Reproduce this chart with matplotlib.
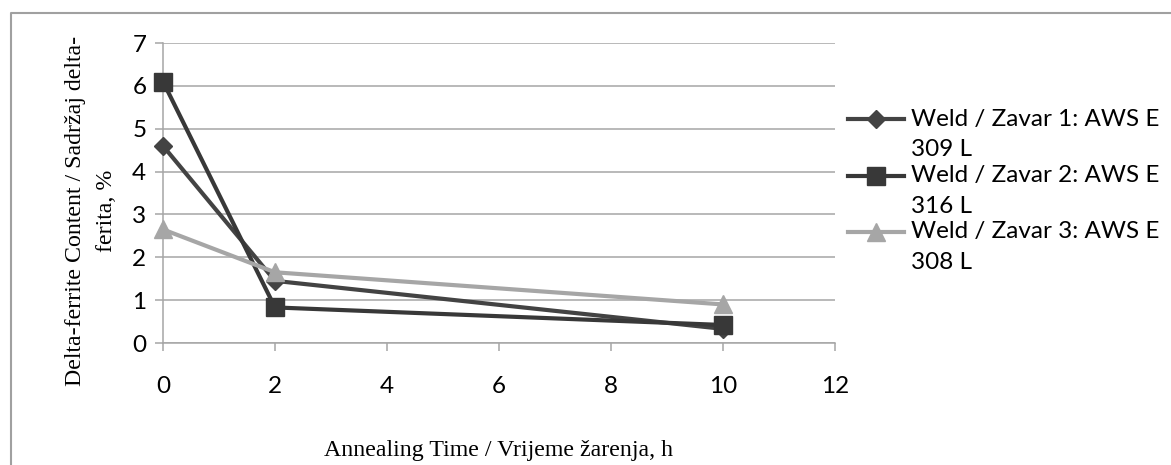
import numpy as np
import matplotlib
matplotlib.use("Agg")
import matplotlib.pyplot as plt
from matplotlib.legend_handler import HandlerLine2D
from matplotlib.lines import Line2D

# ---- data ----
annealing_time = [0, 2, 10]
weld1 = [4.6, 1.45, 0.33]
weld2 = [6.1, 0.83, 0.42]
weld3 = [2.65, 1.65, 0.9]
series_labels = ["Weld / Zavar 1: AWS E\n309 L",
                 "Weld / Zavar 2: AWS E\n316 L",
                 "Weld / Zavar 3: AWS E\n308 L"]
x_ticks = [0, 2, 4, 6, 8, 10, 12]
y_ticks = [0, 1, 2, 3, 4, 5, 6, 7]
x_label = "Annealing Time / Vrijeme žarenja, h"
y_label = "Delta-ferrite Content / Sadržaj delta-\nferita, %"

W, H = 1171, 465
fig = plt.figure(figsize=(W / 100, H / 100), dpi=100)
fig.patch.set_facecolor("white")

L, R, T, B = 163, 835, 43, 343
ax = fig.add_axes([L / W, 1 - B / H, (R - L) / W, (B - T) / H])

sans = "Lato"
serif = "Liberation Serif"
grid_c = "#a6a6a6"

styles = [
    dict(color="#434343", marker="D", ms=9.5),
    dict(color="#383838", marker="s", ms=13.5),
    dict(color="#a6a6a6", marker="^", ms=13.5),
]
for ys, st, lab in zip([weld1, weld2, weld3], styles, series_labels):
    ax.plot(annealing_time, ys, color=st["color"], lw=3.0, marker=st["marker"],
            ms=st["ms"], mfc=st["color"], mec=st["color"], label=lab,
            solid_joinstyle="round", clip_on=False, zorder=3)

ax.set_xlim(0, 12)
ax.set_ylim(0, 7)
ax.set_xticks(x_ticks)
ax.set_yticks(y_ticks)
ax.grid(axis="y", color=grid_c, lw=1.1)
ax.set_axisbelow(True)
for s in ["top", "right"]:
    ax.spines[s].set_visible(False)
for s in ["left", "bottom"]:
    ax.spines[s].set_color(grid_c)
    ax.spines[s].set_linewidth(1.1)
ax.tick_params(axis="both", direction="out", length=6, width=1.1, color=grid_c,
               labelsize=17.5, labelcolor="black")
ax.tick_params(axis="y", pad=6)
ax.tick_params(axis="x", pad=18)
for lbl in ax.get_xticklabels() + ax.get_yticklabels():
    lbl.set_fontfamily(sans)

ax.set_xlabel(x_label, fontfamily=serif, fontsize=17.2)
ax.xaxis.set_label_coords((498 - L) / (R - L), (B - 440) / (B - T))
ax.set_ylabel(y_label, fontfamily=serif, fontsize=17.2, linespacing=1.64)
ax.yaxis.set_label_coords((117 - L) / (R - L), (B - 211) / (B - T))


class TopHandler(HandlerLine2D):
    def __init__(self, shift, **kw):
        super().__init__(**kw)
        self.shift = shift

    def create_artists(self, legend, orig_handle, xdescent, ydescent, width,
                       height, fontsize, trans):
        arts = super().create_artists(legend, orig_handle, xdescent, ydescent,
                                      width, height, fontsize, trans)
        for a in arts:
            a.set_ydata(np.asarray(a.get_ydata()) + self.shift)
        return arts


handles, labels = ax.get_legend_handles_labels()
leg = fig.legend(handles, labels, loc="upper left",
                 bbox_to_anchor=(848 / W, 1 - 109 / H), frameon=False,
                 prop={"family": sans, "size": 17.5}, handlelength=2.3,
                 handletextpad=0.3, labelspacing=0.2, borderpad=0,
                 borderaxespad=0,
                 handler_map={h: TopHandler(11.0) for h in handles})
for t in leg.get_texts():
    t.set_linespacing(1.55)

# outer chart border (top and left visible)
fig.add_artist(Line2D([11 / W, 11 / W, 1.0], [0.0, 1 - 13 / H, 1 - 13 / H],
                      transform=fig.transFigure, color="#a0a0a0", lw=1.5))

fig.savefig("out.png", dpi=100, facecolor="white")
